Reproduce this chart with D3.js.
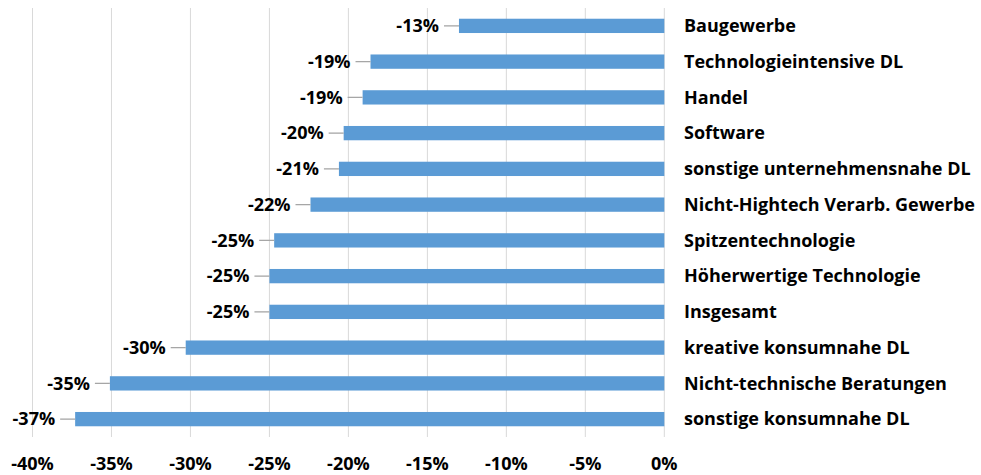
<!DOCTYPE html>
<html>
<head>
<meta charset="utf-8">
<script src="https://cdn.jsdelivr.net/npm/d3@7"></script>
<style>
  body { margin: 0; background: #fff; }
  text { font-family: "Open Sans", Lato, sans-serif; font-weight: bold; fill: #000; }
</style>
</head>
<body>
<svg id="chart" width="981" height="475"></svg>
<script>
// Branches, top to bottom
var categories = ["Baugewerbe", "Technologieintensive DL", "Handel", "Software",
  "sonstige unternehmensnahe DL", "Nicht-Hightech Verarb. Gewerbe", "Spitzentechnologie",
  "Höherwertige Technologie", "Insgesamt", "kreative konsumnahe DL",
  "Nicht-technische Beratungen", "sonstige konsumnahe DL"];

// Change in percent
var values = [-13.0, -18.6, -19.1, -20.3, -20.6, -22.4, -24.7, -25.0, -25.0, -30.3, -35.1, -37.3];

// Labels printed next to each bar
var valueLabels = ["-13%", "-19%", "-19%", "-20%", "-21%", "-22%", "-25%", "-25%", "-25%", "-30%", "-35%", "-37%"];

var tickValues = [-40, -35, -30, -25, -20, -15, -10, -5, 0];

var svg = d3.select("#chart");

var fontSize = "18px";

var x = d3.scaleLinear().domain([-40, 0]).range([32.5, 664.3]);
var y = d3.scaleBand().domain(categories).range([8, 437]).paddingInner(0.6).paddingOuter(0.3);

// vertical gridlines
svg.append("g").selectAll("line")
    .data(tickValues)
  .enter().append("line")
    .attr("x1", function(d) { return x(d); })
    .attr("x2", function(d) { return x(d); })
    .attr("y1", 8)
    .attr("y2", 437)
    .attr("stroke", "#d9d9d9")
    .attr("stroke-width", 1);

// bars
svg.append("g").selectAll("rect")
    .data(values)
  .enter().append("rect")
    .attr("x", function(d) { return x(d); })
    .attr("y", function(d, i) { return y(categories[i]); })
    .attr("width", function(d) { return x(0) - x(d); })
    .attr("height", y.bandwidth())
    .attr("fill", "#5b9bd5");

// leader lines from label to bar end
svg.append("g").selectAll("line")
    .data(values)
  .enter().append("line")
    .attr("x1", function(d) { return x(d) - 15; })
    .attr("x2", function(d) { return x(d); })
    .attr("y1", function(d, i) { return y(categories[i]) + y.bandwidth() / 2; })
    .attr("y2", function(d, i) { return y(categories[i]) + y.bandwidth() / 2; })
    .attr("stroke", "#a6a6a6")
    .attr("stroke-width", 1.3);

// value labels
svg.append("g").selectAll("text")
    .data(values)
  .enter().append("text")
    .attr("x", function(d) { return x(d) - 20; })
    .attr("y", function(d, i) { return y(categories[i]) + y.bandwidth() / 2; })
    .attr("dy", "0.35em")
    .attr("text-anchor", "end")
    .attr("font-size", fontSize)
    .text(function(d, i) { return valueLabels[i]; });

// category labels right of zero
svg.append("g").selectAll("text")
    .data(categories)
  .enter().append("text")
    .attr("x", 684)
    .attr("y", function(d) { return y(d) + y.bandwidth() / 2; })
    .attr("dy", "0.35em")
    .attr("font-size", fontSize)
    .text(function(d) { return d; });

// x axis tick labels
svg.append("g").selectAll("text")
    .data(tickValues)
  .enter().append("text")
    .attr("x", function(d) { return x(d); })
    .attr("y", 463.5)
    .attr("dy", "0.35em")
    .attr("text-anchor", "middle")
    .attr("font-size", fontSize)
    .text(function(d) { return d + "%"; });
</script>
</body>
</html>
